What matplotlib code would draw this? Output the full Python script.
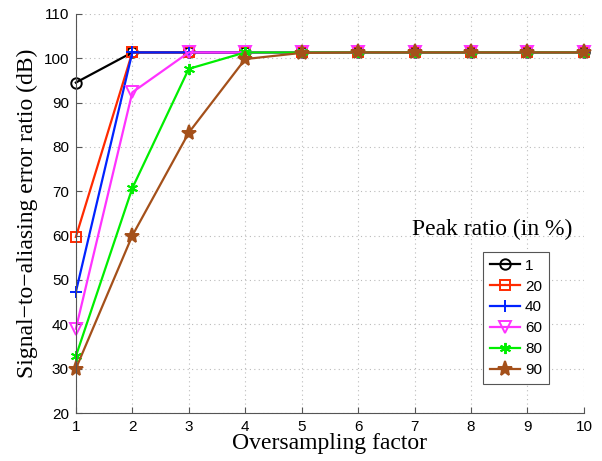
import numpy as np
import matplotlib.pyplot as plt

x = [1, 2, 3, 4, 5, 6, 7, 8, 9, 10]
labels = ["1", "20", "40", "60", "80", "90"]
s1 = [94.5, 101.3, 101.3, 101.3, 101.3, 101.3, 101.3, 101.3, 101.3, 101.3]
s20 = [59.7, 101.3, 101.3, 101.3, 101.3, 101.3, 101.3, 101.3, 101.3, 101.3]
s40 = [47.3, 101.3, 101.3, 101.3, 101.3, 101.3, 101.3, 101.3, 101.3, 101.3]
s60 = [39.0, 92.3, 101.3, 101.3, 101.3, 101.3, 101.3, 101.3, 101.3, 101.3]
s80 = [32.8, 70.7, 97.6, 101.3, 101.3, 101.3, 101.3, 101.3, 101.3, 101.3]
s90 = [30.0, 60.0, 83.2, 99.8, 101.2, 101.3, 101.3, 101.3, 101.3, 101.3]

series = [s1, s20, s40, s60, s80, s90]
colors = ["black", "#ff2a00", "#0022ff", "#ff33ff", "#00ee00", "#a4501a"]
markers = ["o", "s", "+", "v", (6, 2, 0), "*"]
msizes = [7.5, 6.5, 9, 8, 8, 11]

fig = plt.figure(figsize=(6.02, 4.61), dpi=100)
ax = fig.add_axes([0.126, 0.104, 0.844, 0.866])

for ys, c, m, ms, lab in zip(series, colors, markers, msizes, labels):
    filled = m in ("*",)
    ax.plot(x, ys, color=c, marker=m, markersize=ms, linewidth=1.6,
            markerfacecolor=c if filled else "none", markeredgecolor=c,
            markeredgewidth=1.4, label=lab, clip_on=False)

ax.set_xlim(1, 10)
ax.set_ylim(20, 110)
ax.set_xticks(np.arange(1, 11))
ax.set_yticks(np.arange(20, 111, 10))
ax.grid(True, linestyle=(0, (1, 3)), color="#bbbbbb", linewidth=0.8)
ax.spines["top"].set_visible(False)
ax.spines["right"].set_visible(False)
ax.spines["left"].set_color("#555555")
ax.spines["bottom"].set_color("#555555")
ax.tick_params(direction="in", length=4, labelsize=11, color="#555555", pad=5)
for t in ax.get_xticklabels() + ax.get_yticklabels():
    t.set_fontfamily("Liberation Sans")

ax.set_xlabel("Oversampling factor", fontfamily="Liberation Serif", fontsize=17, labelpad=-1)
ax.set_ylabel("Signal\u2212to\u2212aliasing error ratio (dB)", fontfamily="Liberation Serif",
              fontsize=17, labelpad=4)

ax.text(0.978, 0.459, "Peak ratio (in %)", transform=ax.transAxes, ha="right", va="center",
        fontfamily="Liberation Serif", fontsize=17)

leg = ax.legend(loc="lower right", bbox_to_anchor=(0.931, 0.073), borderaxespad=0,
                prop={"family": "Liberation Sans", "size": 11},
                handlelength=2.0, handletextpad=0.3, labelspacing=0.45, borderpad=0.45,
                fancybox=False, framealpha=1, edgecolor="#555555")
leg.get_frame().set_linewidth(0.8)

plt.savefig("out.png", dpi=100)
